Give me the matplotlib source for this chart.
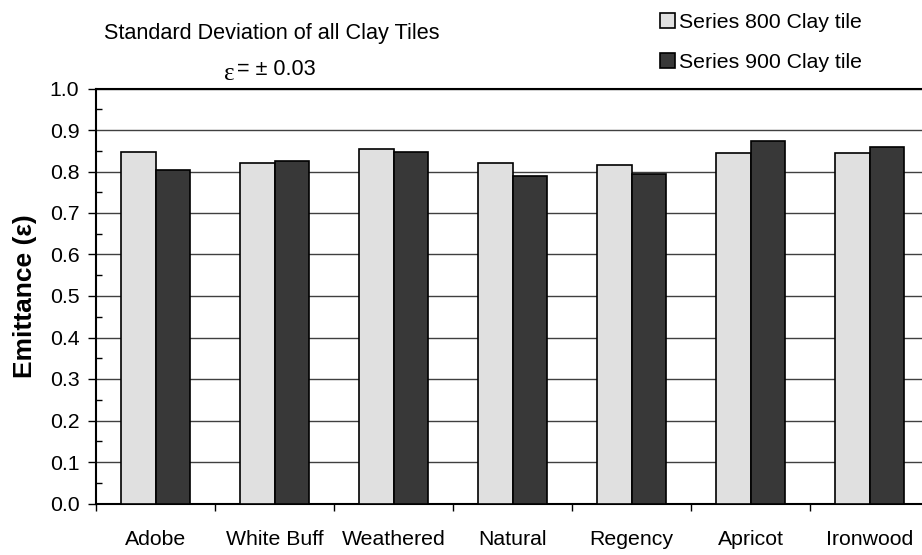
import numpy as np
import matplotlib
matplotlib.use('Agg')
import matplotlib.pyplot as plt
from matplotlib.ticker import MultipleLocator, FixedLocator

plt.rcParams['font.family'] = ['Liberation Sans', 'DejaVu Sans']

categories = ['Adobe', 'White Buff', 'Weathered', 'Natural', 'Regency', 'Apricot', 'Ironwood']
series_800 = [0.848, 0.820, 0.854, 0.820, 0.816, 0.845, 0.844]
series_900 = [0.804, 0.825, 0.848, 0.790, 0.793, 0.873, 0.859]
labels = ['Series 800 Clay tile', 'Series 900 Clay tile']

fs = 15.3

fig = plt.figure(figsize=(9.22, 5.55), dpi=100)
ax = fig.add_axes([96 / 922, 1 - 503.5 / 555, 833 / 922, 415 / 555])

x = np.arange(len(categories))
w = 0.286
b1 = ax.bar(x - w / 2, series_800, w, color='#e0e0e0', edgecolor='black', linewidth=1.2, zorder=3, label=labels[0])
b2 = ax.bar(x + w / 2, series_900, w, color='#383838', edgecolor='black', linewidth=1.2, zorder=3, label=labels[1])

ax.set_xlim(-0.5, len(categories) - 0.5)
ax.set_ylim(0, 1.0)
ax.yaxis.set_major_locator(MultipleLocator(0.1))
ax.yaxis.set_minor_locator(MultipleLocator(0.05))
ax.yaxis.set_major_formatter(plt.FuncFormatter(lambda v, p: f'{v:.1f}'))
ax.grid(axis='y', which='major', color='#404040', linewidth=1.0, zorder=0)
ax.tick_params(axis='y', which='major', direction='out', length=6, width=1, labelsize=fs, pad=6)
ax.tick_params(axis='y', which='minor', direction='in', length=4, width=1)

# category boundaries as ticks, names in the middle
ax.xaxis.set_major_locator(FixedLocator(np.arange(-0.5, len(categories), 1.0)))
ax.xaxis.set_major_formatter(plt.NullFormatter())
ax.xaxis.set_minor_locator(FixedLocator(x))
ax.set_xticklabels(categories, minor=True)
ax.tick_params(axis='x', which='major', direction='out', length=5, width=1)
ax.tick_params(axis='x', which='minor', length=0, labelsize=fs, pad=19)

for s in ax.spines.values():
    s.set_linewidth(1.5)
    s.set_color('black')

ax.set_ylabel('Emittance (ε)', fontsize=19, fontweight='bold', labelpad=9)

fig.text(104 / 922, 1 - 34 / 555, 'Standard Deviation of all Clay Tiles', fontsize=15.6, va='center', ha='left')
fig.text(224 / 922, 1 - 74 / 555, 'ε', fontsize=18, family='Liberation Serif', va='center', ha='left')
fig.text(237 / 922, 1 - 69 / 555, '= ± 0.03', fontsize=15.6, va='center', ha='left')

fig.legend(handles=[b1, b2], labels=labels, loc='upper left', bbox_to_anchor=(651.5 / 922, 1 - 4 / 555),
           frameon=False, fontsize=fs, handlelength=0.7, handleheight=0.7, handletextpad=0.2,
           labelspacing=1.0, borderaxespad=0)

fig.savefig('out.png', dpi=100)
